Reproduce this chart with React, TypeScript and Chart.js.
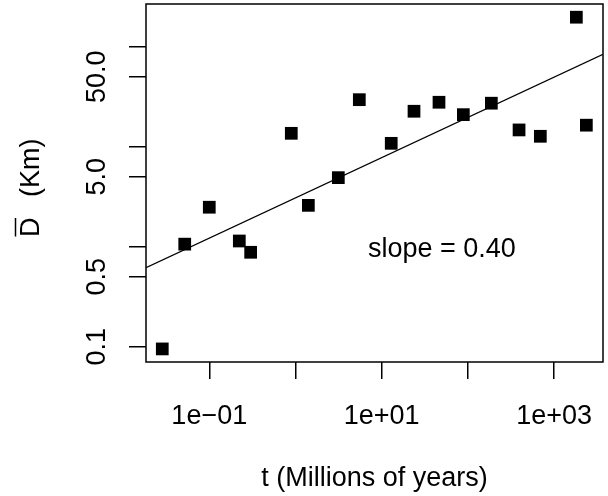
import React, { useEffect, useRef } from "react";
import { Chart, registerables } from "chart.js";

Chart.register(...registerables);

// Data (t in millions of years, mean D in km)
const timeMyr = [0.0285, 0.0519, 0.1, 0.223, 0.302, 0.894, 1.41, 3.14, 5.5, 12.9, 23.7, 46.2, 88.5, 187, 392, 692, 1811, 2366];
const meanD = [0.095, 1.06, 2.48, 1.14, 0.879, 13.6, 2.59, 4.9, 29.5, 10.8, 22.6, 27.8, 20.9, 27.2, 14.7, 12.7, 197, 16.4];

// Fitted power-law line endpoints (slope 0.40 in log-log)
const fitX = [0.01845, 3690];
const fitY = [0.617, 84];

// Axis ticks
const xTickValues = [0.1, 1, 10, 100, 1000];
const xTickLabels = ["1e\u221201", "", "1e+01", "", "1e+03"];
const yTickValues = [0.1, 0.5, 1, 5, 10, 50, 100];
const yTickLabels = ["0.1", "0.5", "", "5.0", "", "50.0", ""];

const xRange = [0.01845, 3690];
const yRange = [0.0703, 267];

const annotationText = "slope = 0.40";
const annotationAt = [50, 1];

const FONT = '27px "Liberation Sans", Arial, Helvetica, sans-serif';

const drawPlugin = {
  id: "rstyle",
  afterDraw(chart: any) {
    const ctx = chart.ctx as CanvasRenderingContext2D;
    const ca = chart.chartArea;
    const xs = chart.scales.x;
    const ys = chart.scales.y;
    ctx.save();
    // box
    ctx.strokeStyle = "#000";
    ctx.lineWidth = 1.5;
    ctx.strokeRect(ca.left, ca.top, ca.right - ca.left, ca.bottom - ca.top);

    ctx.fillStyle = "#000";
    ctx.font = FONT;
    // x tick labels
    ctx.textAlign = "center";
    ctx.textBaseline = "alphabetic";
    xTickValues.forEach((v, i) => {
      if (!xTickLabels[i]) return;
      ctx.fillText(xTickLabels[i], xs.getPixelForValue(v), ca.bottom + 62);
    });
    // x title
    ctx.fillText("t (Millions of years)", (ca.left + ca.right) / 2, ca.bottom + 124);

    // annotation
    ctx.fillText(annotationText, xs.getPixelForValue(annotationAt[0]), ys.getPixelForValue(annotationAt[1]) + 10.5);

    // y tick labels (rotated)
    yTickValues.forEach((v, i) => {
      if (!yTickLabels[i]) return;
      const py = ys.getPixelForValue(v);
      ctx.save();
      ctx.translate(ca.left - 41, py);
      ctx.rotate(-Math.PI / 2);
      ctx.textAlign = "center";
      ctx.fillText(yTickLabels[i], 0, 0);
      ctx.restore();
    });

    // y title: D with overbar, then (Km)
    ctx.save();
    ctx.translate(ca.left - 107, 237);
    ctx.rotate(-Math.PI / 2);
    ctx.textAlign = "left";
    ctx.fillText("D", 0, 0);
    const dw = ctx.measureText("D").width;
    ctx.fillText("(Km)", 40, 0);
    ctx.lineWidth = 1.5;
    ctx.beginPath();
    ctx.moveTo(0.5, -23.5);
    ctx.lineTo(dw - 0.5, -23.5);
    ctx.stroke();
    ctx.restore();

    ctx.restore();
  },
};

export default function App() {
  const ref = useRef<HTMLCanvasElement | null>(null);
  useEffect(() => {
    if (!ref.current) return;
    const chart = new Chart(ref.current, {
      type: "scatter",
      data: {
        datasets: [
          {
            type: "scatter",
            data: timeMyr.map((t, i) => ({ x: t, y: meanD[i] })),
            pointStyle: "rect",
            pointRadius: 9,
            pointHoverRadius: 9,
            backgroundColor: "#000",
            borderColor: "#000",
            borderWidth: 0,
          },
          {
            type: "line",
            data: fitX.map((x, i) => ({ x, y: fitY[i] })),
            borderColor: "#000",
            borderWidth: 1.3,
            pointRadius: 0,
            fill: false,
          } as any,
        ],
      },
      options: {
        animation: false,
        responsive: false,
        events: [],
        layout: { autoPadding: false, padding: { left: 0, top: 4, right: 5, bottom: 0 } },
        plugins: { legend: { display: false }, tooltip: { enabled: false } },
        scales: {
          x: {
            type: "logarithmic",
            min: xRange[0],
            max: xRange[1],
            afterBuildTicks: (s: any) => {
              s.ticks = xTickValues.map((v) => ({ value: v }));
            },
            afterFit: (s: any) => {
              s.height = 134;
            },
            ticks: { display: false },
            grid: { drawOnChartArea: false, drawTicks: true, tickLength: 17, color: "#000", lineWidth: 1.5 },
            border: { display: false },
          },
          y: {
            type: "logarithmic",
            min: yRange[0],
            max: yRange[1],
            afterBuildTicks: (s: any) => {
              s.ticks = yTickValues.map((v) => ({ value: v }));
            },
            afterFit: (s: any) => {
              s.width = 146;
            },
            ticks: { display: false },
            grid: { drawOnChartArea: false, drawTicks: true, tickLength: 17, color: "#000", lineWidth: 1.5 },
            border: { display: false },
          },
        },
      },
      plugins: [drawPlugin],
    });
    return () => chart.destroy();
  }, []);
  return (
    <div style={{ position: "fixed", left: 0, top: 0, width: 608, height: 496, background: "#fff" }}>
      <canvas ref={ref} width={608} height={496} style={{ display: "block" }} />
    </div>
  );
}
